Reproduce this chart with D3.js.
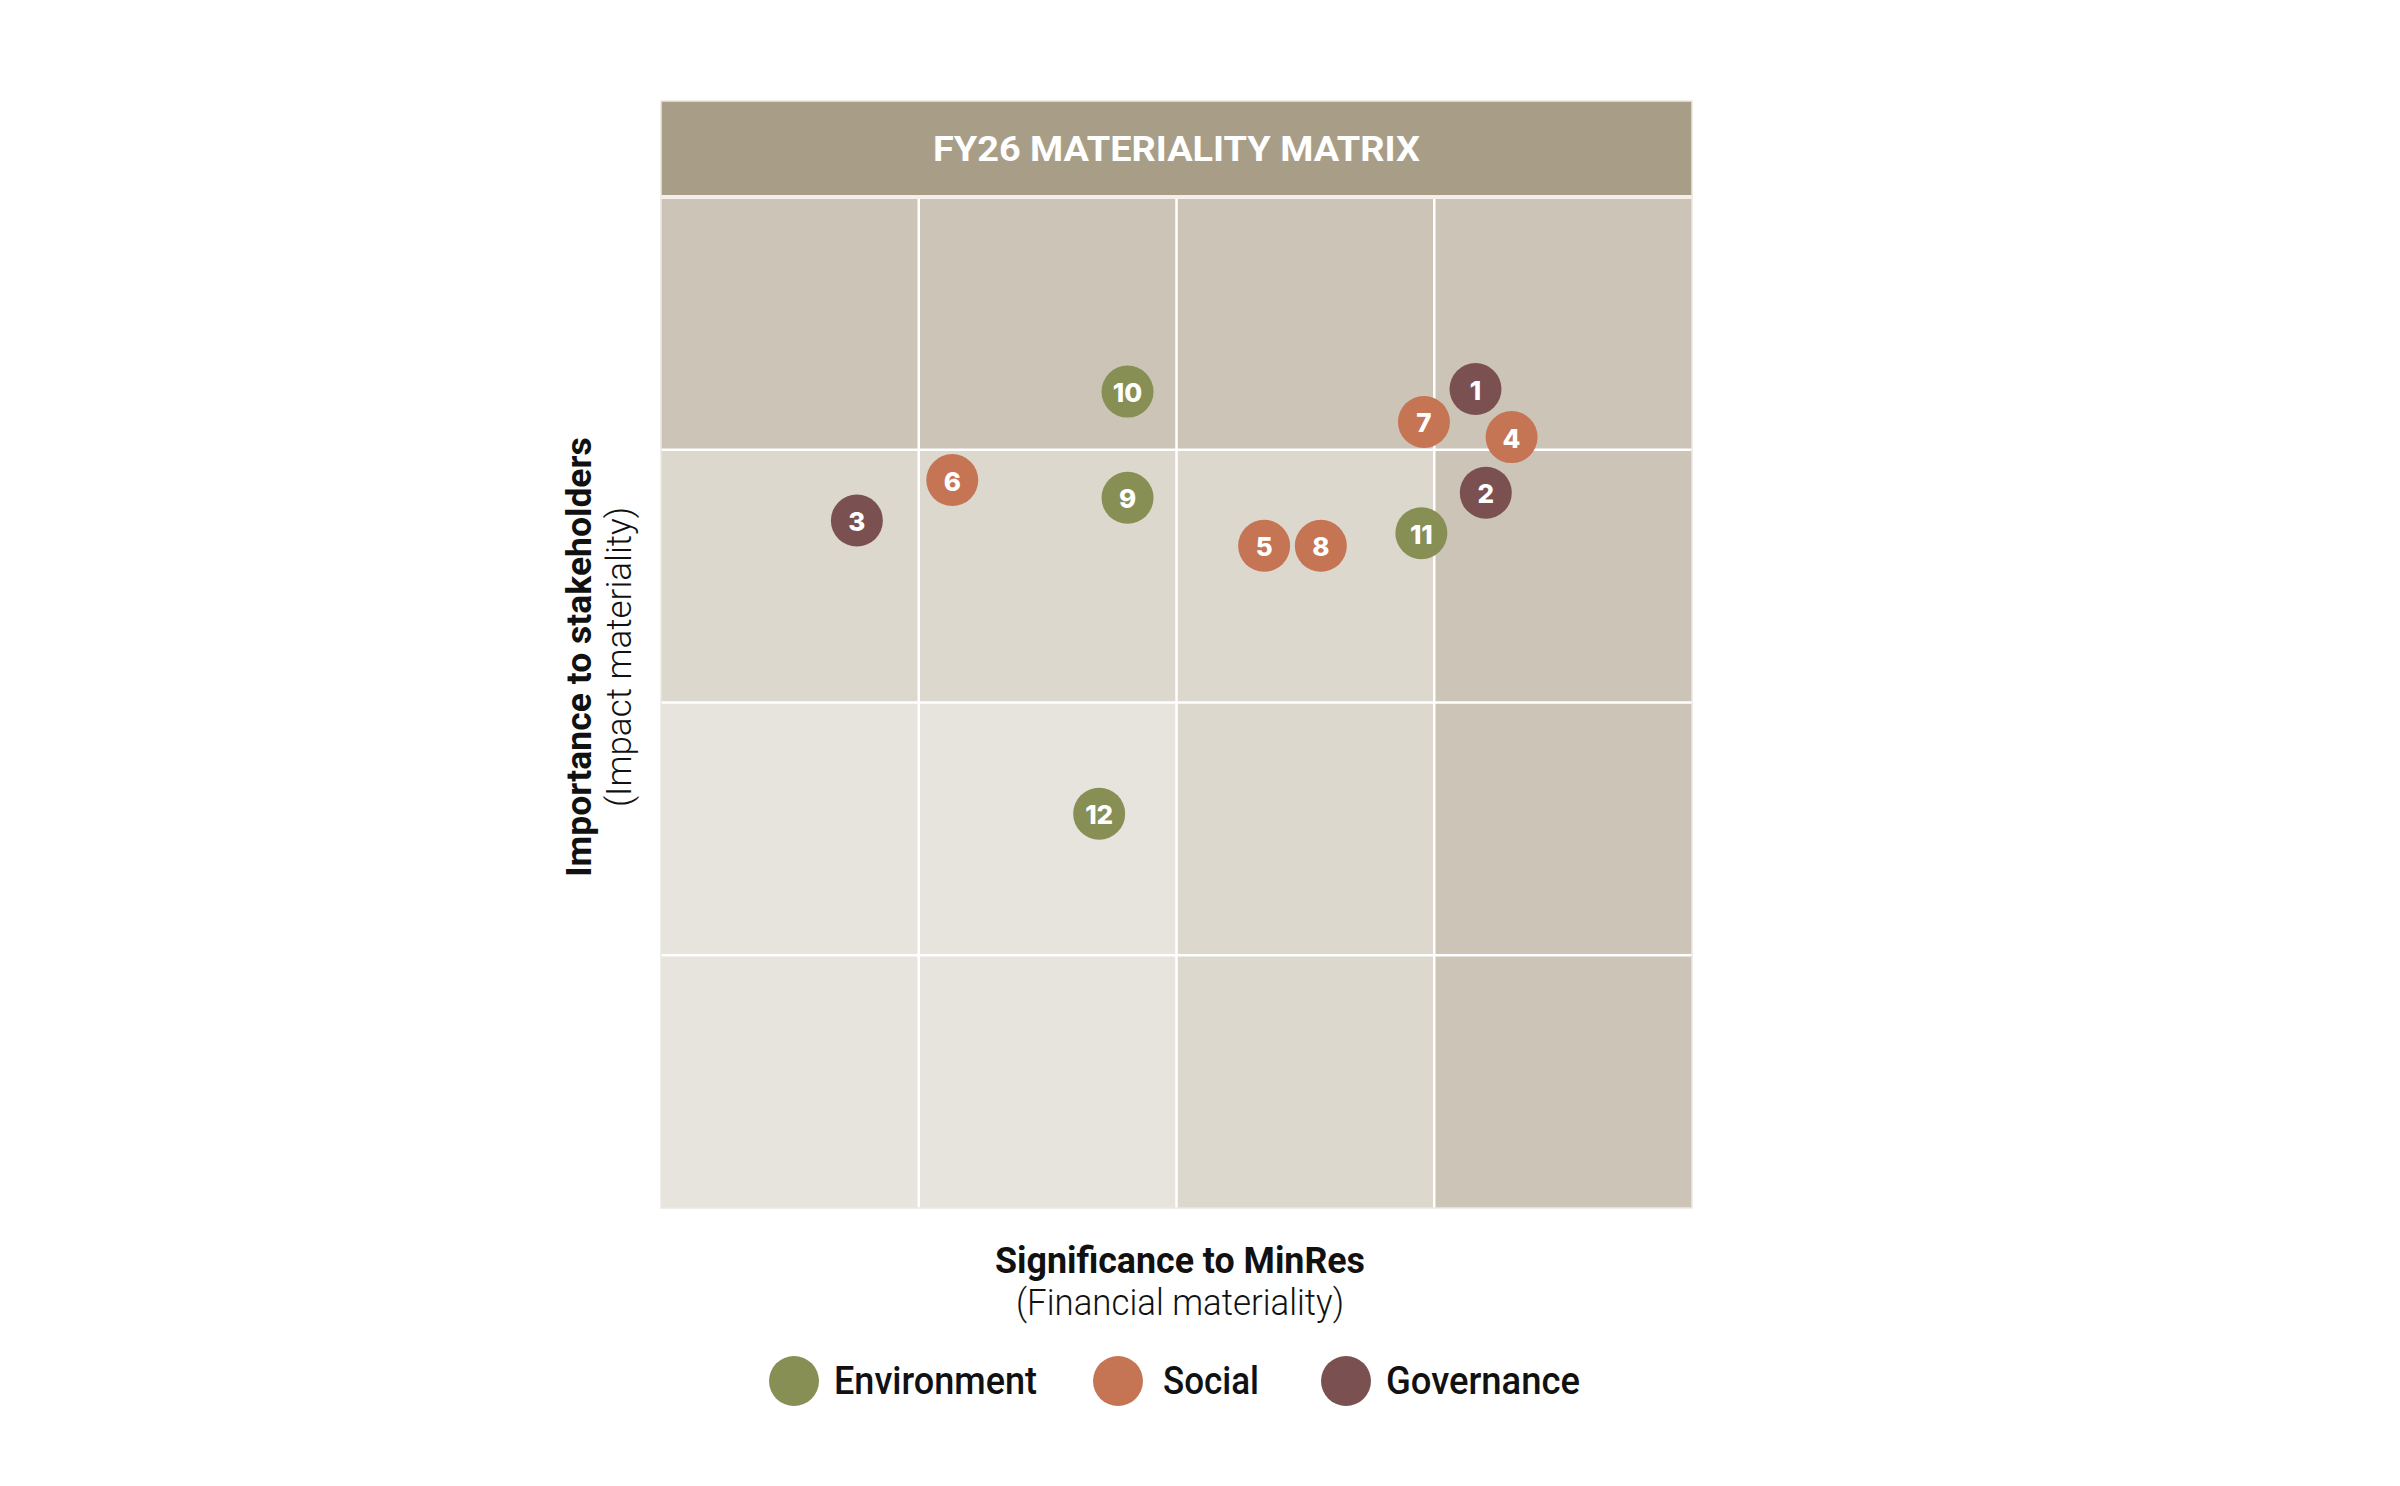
<!DOCTYPE html>
<html>
<head>
<meta charset="utf-8">
<script src="https://cdn.jsdelivr.net/npm/d3@7"></script>
<style>
  html, body { margin: 0; padding: 0; background: #ffffff; }
  svg { display: block; }
</style>
</head>
<body>
<div id="chart"></div>
<script>
// materiality topics, numbered as in the report
const topicIds = [1, 2, 3, 4, 5, 6, 7, 8, 9, 10, 11, 12];
const topicPillars = ['Governance', 'Governance', 'Governance', 'Social', 'Social', 'Social',
  'Social', 'Social', 'Environment', 'Environment', 'Environment', 'Environment'];
// significance to MinRes (financial materiality), 0-4
const financialScores = [3.16, 3.20, 0.76, 3.30, 2.34, 1.13, 2.96, 2.56, 1.81, 1.81, 2.95, 1.70];
// importance to stakeholders (impact materiality), 0-4
const impactScores = [3.24, 2.83, 2.72, 3.05, 2.62, 2.88, 3.11, 2.62, 2.81, 3.23, 2.67, 1.56];

const pillars = ['Environment', 'Social', 'Governance'];
const bands = [0, 1, 2, 3];
// shading tier of each band (higher = darker)
const xBandTier = [1, 1, 2, 3];
const yBandTier = [1, 1, 2, 3];

const width = 2400, height = 1486;
const plot = { left: 661, right: 1692, top: 197, bottom: 1208, headerTop: 101 };

const svg = d3.select('#chart').append('svg')
  .attr('width', width)
  .attr('height', height)
  .attr('viewBox', `0 0 ${width} ${height}`);

const x = d3.scaleLinear().domain([0, 4]).range([plot.left, plot.right]);
const y = d3.scaleLinear().domain([0, 4]).range([plot.bottom, plot.top]);

const tierColor = d3.scaleOrdinal()
  .domain([1, 2, 3])
  .range(['#e7e4de', '#dcd8cd', '#cbc4b7']);

const pillarColor = d3.scaleOrdinal()
  .domain(pillars)
  .range(['#878f55', '#c57454', '#7a5150']);

// header band
svg.append('rect')
  .attr('x', plot.left)
  .attr('y', plot.headerTop)
  .attr('width', plot.right - plot.left)
  .attr('height', plot.top - plot.headerTop)
  .attr('fill', '#a89e87');

svg.append('text')
  .attr('x', (plot.left + plot.right) / 2)
  .attr('y', (plot.headerTop + plot.top) / 2)
  .attr('text-anchor', 'middle')
  .attr('dominant-baseline', 'central')
  .attr('font-family', 'Roboto, sans-serif')
  .attr('font-weight', 700)
  .attr('font-size', 35)
  .attr('textLength', 487)
  .attr('lengthAdjust', 'spacingAndGlyphs')
  .attr('fill', '#ffffff')
  .text('FY26 MATERIALITY MATRIX');

// grid cells
const cells = [];
bands.forEach(i => bands.forEach(j => cells.push({ i, j })));

svg.append('g')
  .selectAll('rect')
  .data(cells)
  .join('rect')
  .attr('x', d => x(d.i))
  .attr('y', d => y(d.j + 1))
  .attr('width', d => x(d.i + 1) - x(d.i))
  .attr('height', d => y(d.j) - y(d.j + 1))
  .attr('fill', d => tierColor(Math.max(xBandTier[d.i], yBandTier[d.j])));

// white grid lines
const lines = svg.append('g').attr('stroke', '#ffffff').attr('stroke-width', 2.5);
lines.selectAll('line.v')
  .data([1, 2, 3])
  .join('line')
  .attr('class', 'v')
  .attr('x1', d => x(d)).attr('x2', d => x(d))
  .attr('y1', y(4)).attr('y2', y(0));
lines.selectAll('line.h')
  .data([1, 2, 3, 4])
  .join('line')
  .attr('class', 'h')
  .attr('x1', x(0)).attr('x2', x(4))
  .attr('y1', d => y(d)).attr('y2', d => y(d));
lines.select('line.h:last-child').attr('stroke', '#f6eee8').attr('stroke-width', 4);

svg.append('rect')
  .attr('x', plot.left)
  .attr('y', plot.headerTop)
  .attr('width', plot.right - plot.left)
  .attr('height', plot.bottom - plot.headerTop)
  .attr('fill', 'none')
  .attr('stroke', '#ece8e2')
  .attr('stroke-width', 1.5);

// topic bubbles
const topics = topicIds.map((id, k) => ({
  id,
  pillar: topicPillars[k],
  fin: financialScores[k],
  imp: impactScores[k]
}));

const bubble = svg.append('g')
  .selectAll('g')
  .data(topics)
  .join('g')
  .attr('transform', d => `translate(${x(d.fin)},${y(d.imp)})`);

bubble.append('circle')
  .attr('r', 26)
  .attr('fill', d => pillarColor(d.pillar));

bubble.append('text')
  .attr('text-anchor', 'middle')
  .attr('dominant-baseline', 'central')
  .attr('dy', 1)
  .attr('font-family', 'Inter, Roboto, sans-serif')
  .attr('font-weight', 800)
  .attr('font-size', 26)
  .attr('fill', '#ffffff')
  .text(d => d.id);

// axis titles
const xTitle = svg.append('g')
  .attr('transform', `translate(${1180},0)`)
  .attr('text-anchor', 'middle')
  .attr('fill', '#111111')
  .attr('font-family', 'Roboto, sans-serif');
xTitle.append('text')
  .attr('y', 1273)
  .attr('font-size', 37)
  .attr('font-weight', 700)
  .attr('textLength', 370)
  .attr('lengthAdjust', 'spacingAndGlyphs')
  .text('Significance to MinRes');
xTitle.append('text')
  .attr('y', 1315)
  .attr('font-size', 36)
  .attr('font-weight', 300)
  .attr('textLength', 328)
  .attr('lengthAdjust', 'spacingAndGlyphs')
  .text('(Financial materiality)');

const yTitle = svg.append('g')
  .attr('transform', `translate(0,${657}) rotate(-90)`)
  .attr('text-anchor', 'middle')
  .attr('fill', '#111111')
  .attr('font-family', 'Roboto, sans-serif');
yTitle.append('text')
  .attr('x', 0)
  .attr('y', 591)
  .attr('font-size', 35.5)
  .attr('font-weight', 700)
  .text('Importance to stakeholders');
yTitle.append('text')
  .attr('x', 0)
  .attr('y', 631)
  .attr('font-size', 35)
  .attr('font-weight', 300)
  .text('(Impact materiality)');

// legend
const legendX = [794, 1118, 1346];
const legendTextW = [203, 96, 194];
const legend = svg.append('g')
  .selectAll('g')
  .data(pillars)
  .join('g')
  .attr('transform', (d, k) => `translate(${legendX[k]},1381)`);

legend.append('circle')
  .attr('r', 25)
  .attr('fill', d => pillarColor(d));

legend.append('text')
  .attr('x', (d, k) => k === 1 ? 45 : 40)
  .attr('dominant-baseline', 'central')
  .attr('font-family', 'Roboto, sans-serif')
  .attr('font-weight', 500)
  .attr('font-size', 38)
  .attr('textLength', (d, k) => legendTextW[k])
  .attr('lengthAdjust', 'spacingAndGlyphs')
  .attr('fill', '#111111')
  .text(d => d);
</script>
</body>
</html>
